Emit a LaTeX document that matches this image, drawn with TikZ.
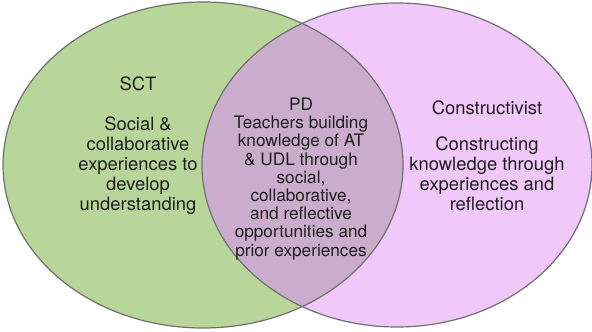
\documentclass[tikz,border=0pt]{standalone}
\usepackage{fontspec}
\setmainfont{TeX Gyre Heros}
\usetikzlibrary{positioning}
\definecolor{sctgreen}{RGB}{184,214,153}
\definecolor{conpink}{RGB}{240,200,250}
\definecolor{pdmauve}{RGB}{202,172,204}
\definecolor{rimgray}{RGB}{112,112,112}
\definecolor{inkgray}{RGB}{30,30,30}
\tikzstyle{rim} = [draw=rimgray, line width=0.6pt]
\tikzstyle{settext} = [align=center, text=inkgray, inner sep=0pt, font=\fontsize{9.2}{10}\selectfont]
\tikzstyle{pdtext} = [align=center, text=inkgray, inner sep=0pt, font=\fontsize{8.6}{9.1}\selectfont]

\begin{document}
\begin{tikzpicture}[x=0.5pt, y=-0.5pt]
    \useasboundingbox (0,0) rectangle (592,331);
    \coordinate (sctc) at (203,165);
    \coordinate (conc) at (397,165);

    % the two sets
    \fill [sctgreen] (sctc) ellipse [x radius=200, y radius=163];
    \fill [conpink] (conc) ellipse [x radius=195, y radius=162];
    \begin{scope}
        \clip (sctc) ellipse [x radius=200, y radius=163];
        \fill [pdmauve] (conc) ellipse [x radius=195, y radius=162];
    \end{scope}
    \draw [rim] (sctc) ellipse [x radius=200, y radius=163];
    \draw [rim] (conc) ellipse [x radius=195, y radius=162];

    % texts
    \node (sct) [settext] at (138,146) {SCT\\[10pt]Social \&\\collaborative\\experiences to\\develop\\understanding};
    \node (pd) [pdtext] at (301,179) {PD\\Teachers building\\knowledge of AT\\\& UDL through\\social,\\collaborative,\\and reflective\\opportunities and\\prior experiences};
    \node (con) [settext] at (487,156) {Constructivist\\[8pt]Constructing\\knowledge through\\experiences and\\reflection};
\end{tikzpicture}
\end{document}
